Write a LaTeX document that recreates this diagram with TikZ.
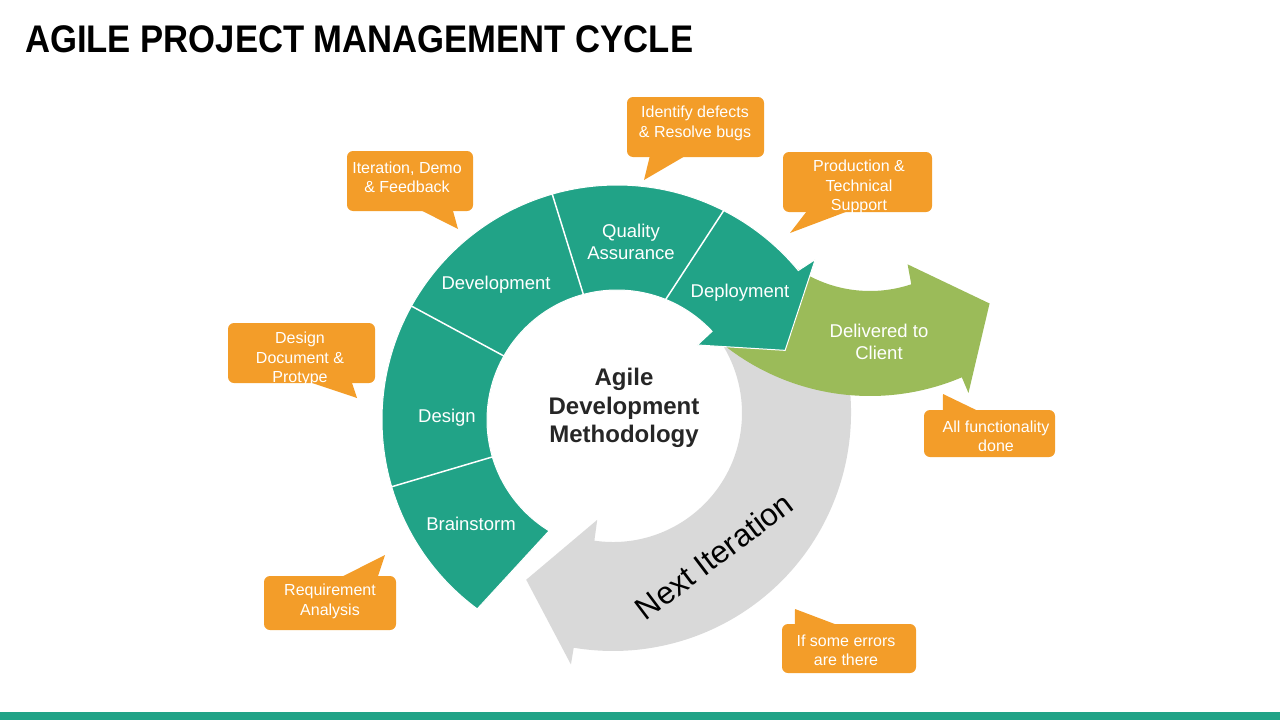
\documentclass[tikz,border=0pt]{standalone}
\usepackage{fontspec}
\setmainfont{Liberation Sans}
\definecolor{agteal}{RGB}{33,163,135}
\definecolor{aggreen}{RGB}{155,187,89}
\definecolor{aggray}{RGB}{217,217,217}
\definecolor{agorange}{RGB}{243,157,41}
\definecolor{agdark}{RGB}{38,38,38}
\begin{document}
\begin{tikzpicture}[x=1pt, y=-1pt,
    callout/.style={fill=agorange, rounded corners=6pt, inner sep=0pt},
    calltext/.style={text=white, align=center, inner sep=0pt, font=\fontsize{16}{19.5}\selectfont},
    steplabel/.style={text=white, align=center, inner sep=0pt, font=\fontsize{18.5}{22.5}\selectfont}]
    \useasboundingbox (0,0) rectangle (1280,720);
    \fill[agteal] (0,712) rectangle (1280,720);
    \node[anchor=base west, inner sep=0pt, xscale=0.9,
      font=\bfseries\fontsize{38.5}{40}\selectfont] (title) at (25,52) {AGILE PROJECT MANAGEMENT CYCLE};

    \begin{scope}[shift={(613,413)}, yscale=-1]
      \pgfmathsetmacro{\ri}{129}
      \pgfmathsetmacro{\ro}{238}
      \fill[aggray] (31:\ro) arc[start angle=31, end angle=-99.5, radius=\ro]
      -- (-99.5:255) -- (-117.5:188) -- (-98.4:108) -- (-98.3:\ri)
      arc[start angle=-98.3, end angle=31, radius=\ri] -- cycle;
    \end{scope}

    \begin{scope}[shift={(870,161)}, yscale=-1]
      \pgfmathsetmacro{\ri}{130}
      \pgfmathsetmacro{\ro}{235}
      \fill[aggreen] (228:\ro) arc[start angle=228, end angle=293, radius=\ro]
      -- (293:252) -- (310:186) -- (290:110) -- (288.5:\ri)
      arc[start angle=288.5, end angle=228, radius=\ri] -- cycle;
    \end{scope}

    \begin{scope}[shift={(617,420)}, yscale=-1]
      \pgfmathsetmacro{\ri}{130}
      \pgfmathsetmacro{\ro}{235}
      \filldraw[fill=agteal, draw=white, line width=1pt] (233.5:\ro)
      arc[start angle=233.5, end angle=39.5, radius=\ro]
      -- (39:255) -- (22.5:182) -- (43:110) -- (43:\ri)
      arc[start angle=43, end angle=238.5, radius=\ri] -- cycle;
      \draw[white, line width=1.5pt] (196.5:\ro) -- (196.5:\ri);
      \draw[white, line width=1.5pt] (151:\ro) -- (150.5:\ri);
      \draw[white, line width=1.5pt] (106:\ro) -- (105:\ri);
      \draw[white, line width=1.5pt] (63:\ro) -- (68:\ri);
    \end{scope}

    \node[steplabel] (brain) at (471,524) {Brainstorm};
    \node[steplabel] (design) at (447,418) {Design};
    \node[steplabel] (devel) at (496,285) {Development};
    \node[steplabel] (qa) at (631,242) {Quality\\Assurance};
    \node[steplabel] (deploy) at (740,293) {Deployment};
    \node[steplabel] (client) at (879,342) {Delivered to\\Client};
    \node[text=agdark, align=center, font=\bfseries\fontsize{24}{28.5}\selectfont] (agile) at (624,408)
      {Agile\\Development\\Methodology};
    \node[rotate=37, font=\fontsize{31.5}{32}\selectfont] (next) at (714,556) {Next Iteration};

    % callouts
    \node[callout, minimum width=126, minimum height=60] (iterbox) at (410,181) {};
    \coordinate (itertip) at (458,229);
    \fill[agorange] ([xshift=74pt, yshift=1pt]iterbox.south west) -- (itertip)
      -- ([xshift=106pt, yshift=1pt]iterbox.south west) -- cycle;
    \node[calltext] (itertext) at (407,177.5) {Iteration, Demo\\\& Feedback};

    \node[callout, minimum width=137, minimum height=60] (defbox) at (695.5,127) {};
    \coordinate (deftip) at (644,180);
    \fill[agorange] ([xshift=23pt, yshift=1pt]defbox.south west) -- (deftip)
      -- ([xshift=58pt, yshift=1pt]defbox.south west) -- cycle;
    \node[calltext] (deftext) at (695,123.5) {Identify defects\\\& Resolve bugs};

    \node[callout, minimum width=149, minimum height=60] (prodbox) at (857.5,182) {};
    \coordinate (prodtip) at (790,233);
    \fill[agorange] ([xshift=24pt, yshift=1pt]prodbox.south west) -- (prodtip)
      -- ([xshift=65pt, yshift=1pt]prodbox.south west) -- cycle;
    \node[calltext] (prodtext) at (859,187) {Production \&\\Technical\\Support};

    \node[callout, minimum width=147, minimum height=60] (desbox) at (301.5,353) {};
    \coordinate (destip) at (357,398);
    \fill[agorange] ([xshift=82pt, yshift=1pt]desbox.south west) -- (destip)
      -- ([xshift=124pt, yshift=1pt]desbox.south west) -- cycle;
    \node[calltext] (destext) at (300,359) {Design\\Document \&\\Protype};

    \node[callout, minimum width=132, minimum height=54] (reqbox) at (330,603) {};
    \coordinate (reqtip) at (385,555);
    \fill[agorange] ([xshift=78pt, yshift=-1pt]reqbox.north west) -- (reqtip)
      -- ([xshift=114pt, yshift=-1pt]reqbox.north west) -- cycle;
    \node[calltext] (reqtext) at (330,601.5) {Requirement\\Analysis};

    \node[callout, minimum width=131, minimum height=47] (allbox) at (989.5,433.5) {};
    \coordinate (alltip) at (943,394);
    \fill[agorange] ([xshift=19pt, yshift=-1pt]allbox.north west) -- (alltip)
      -- ([xshift=54pt, yshift=-1pt]allbox.north west) -- cycle;
    \node[calltext] (alltext) at (996,436.5) {All functionality\\done};

    \node[callout, minimum width=134, minimum height=49] (errbox) at (849,648.5) {};
    \coordinate (errtip) at (795,609);
    \fill[agorange] ([xshift=13pt, yshift=-1pt]errbox.north west) -- (errtip)
      -- ([xshift=55pt, yshift=-1pt]errbox.north west) -- cycle;
    \node[calltext] (errtext) at (846,650.5) {If some errors\\are there};
\end{tikzpicture}
\end{document}
